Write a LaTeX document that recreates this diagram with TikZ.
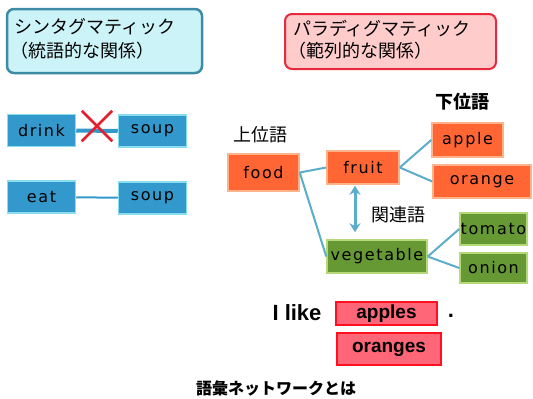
\documentclass[tikz,border=0pt]{standalone}
\usepackage{fontspec}
\setmainfont{DejaVu Sans}
\newfontfamily\jp{Noto Sans CJK JP}
\newfontfamily\bx[LetterSpace=10]{DejaVu Sans}
\newfontfamily\lib{Liberation Sans}
\usetikzlibrary{arrows.meta,shapes.misc}
\definecolor{hdrLfill}{HTML}{CCF4F8}
\definecolor{hdrLline}{HTML}{3D8BA5}
\definecolor{hdrRfill}{HTML}{FFCCCC}
\definecolor{hdrRline}{HTML}{E8283C}
\definecolor{bluefill}{HTML}{3399CC}
\definecolor{blueline}{HTML}{88DDEE}
\definecolor{orfill}{HTML}{FF6633}
\definecolor{orline}{HTML}{FFB38A}
\definecolor{grfill}{HTML}{669933}
\definecolor{grline}{HTML}{B5D97A}
\definecolor{pkfill}{HTML}{FF6678}
\definecolor{pkline}{HTML}{FF1020}
\definecolor{conncol}{HTML}{5AAECC}
\definecolor{xred}{HTML}{E41E2C}
\tikzset{
  wbox/.style={inner sep=0pt, line width=1.5pt, font=\bx\fontsize{16}{18}\selectfont, text=black},
  bluebox/.style={wbox, fill=bluefill, draw=blueline, minimum width=68pt, minimum height=32pt},
  orbox/.style={wbox, fill=orfill, draw=orline},
  grbox/.style={wbox, fill=grfill, draw=grline},
  pkbox/.style={inner sep=0pt, line width=2pt, fill=pkfill, draw=pkline, font=\lib\bfseries\fontsize{19}{21}\selectfont},
  jptxt/.style={inner sep=0pt, anchor=west, font=\jp\fontsize{18}{20}\selectfont},
  jplabel/.style={inner sep=0pt, font=\jp\fontsize{18}{20}\selectfont},
  conn/.style={draw=conncol, line width=2pt},
}
\begin{document}
\begin{tikzpicture}[x=1pt,y=-1pt]
\useasboundingbox (0,0) rectangle (533,399);
% headers
\node[draw=hdrLline, fill=hdrLfill, line width=2.5pt, rounded corners=7pt, minimum width=195pt, minimum height=64pt, inner sep=0pt] (synbox) at (104.5,41) {};
\node[jptxt] (syn1) at (14,27) {シンタグマティック};
\node[jptxt] (syn2) at (10,51) {（統語的な関係）};
\node[draw=hdrRline, fill=hdrRfill, line width=2pt, rounded corners=7pt, minimum width=211pt, minimum height=55pt, inner sep=0pt] (parbox) at (390.5,41.5) {};
\node[jptxt] (par1) at (293,29) {パラディグマティック};
\node[jptxt] (par2) at (288,51) {（範列的な関係）};
% syntagmatic examples
\node[bluebox] (drink) at (41.5,130.5) {drink};
\node[bluebox] (soupA) at (152.5,131) {soup};
\node[bluebox] (eat) at (41.5,197) {eat};
\node[bluebox] (soupB) at (152.5,198) {soup};
\draw[draw=bluefill, line width=4pt] (drink) -- (soupA);
\draw[draw=bluefill, line width=2pt] (eat) -- (soupB);
\node[cross out, draw=xred, line width=2.5pt, minimum size=28pt, inner sep=0pt] (nox) at (97,126) {};
% paradigmatic tree
\node[orbox, minimum width=71pt, minimum height=37pt] (food) at (263.5,172.5) {food};
\node[orbox, minimum width=72pt, minimum height=33pt] (fruit) at (363,167.5) {fruit};
\node[orbox, minimum width=71pt, minimum height=34pt] (apple) at (467.5,140) {apple};
\node[orbox, minimum width=98pt, minimum height=33pt] (orange) at (482,181.5) {orange};
\node[grbox, minimum width=100pt, minimum height=33pt] (veg) at (377,256.5) {vegetable};
\node[grbox, minimum width=67pt, minimum height=32pt] (tomato) at (493.5,229) {tomato};
\node[grbox, minimum width=67pt, minimum height=30pt] (onion) at (493.5,268) {onion};
\draw[conn] (food.east) -- (fruit.west);
\draw[conn] (food.east) -- (veg.west);
\draw[conn] (fruit.east) -- (apple.west);
\draw[conn] (fruit.east) -- (orange.west);
\draw[conn] (veg.east) -- (tomato.west);
\draw[conn] (veg.east) -- (onion.west);
\coordinate (arrtop) at ([xshift=-8pt]fruit.south);
\draw[draw=conncol, line width=3pt, {Stealth[length=9pt,width=11pt]}-{Stealth[length=9pt,width=11pt]}, shorten <=1pt, shorten >=7pt] (arrtop) -- (arrtop |- veg.north);
\node[jplabel] (upper) at (260,135) {上位語};
\node[jplabel, font=\jp\bfseries\fontsize{18}{20}\selectfont] (lower) at (462,102) {下位語};
\node[jplabel] (related) at (398,215) {関連語};
% sentence
\node[inner sep=0pt, font=\lib\bfseries\fontsize{22}{24}\selectfont] (ilike) at (297,313) {I like};
\node[pkbox, minimum width=101pt, minimum height=23pt] (apples) at (386.5,313.5) {apples};
\node[pkbox, minimum width=104pt, minimum height=32pt] (oranges) at (389,349) {oranges};
\node[inner sep=0pt, font=\lib\bfseries\fontsize{22}{24}\selectfont] (period) at (451,316) {.};
% title
\node[inner sep=0pt, font=\jp\bfseries\fontsize{16}{18}\selectfont] (title) at (276,388) {語彙ネットワークとは};
\end{tikzpicture}
\end{document}
